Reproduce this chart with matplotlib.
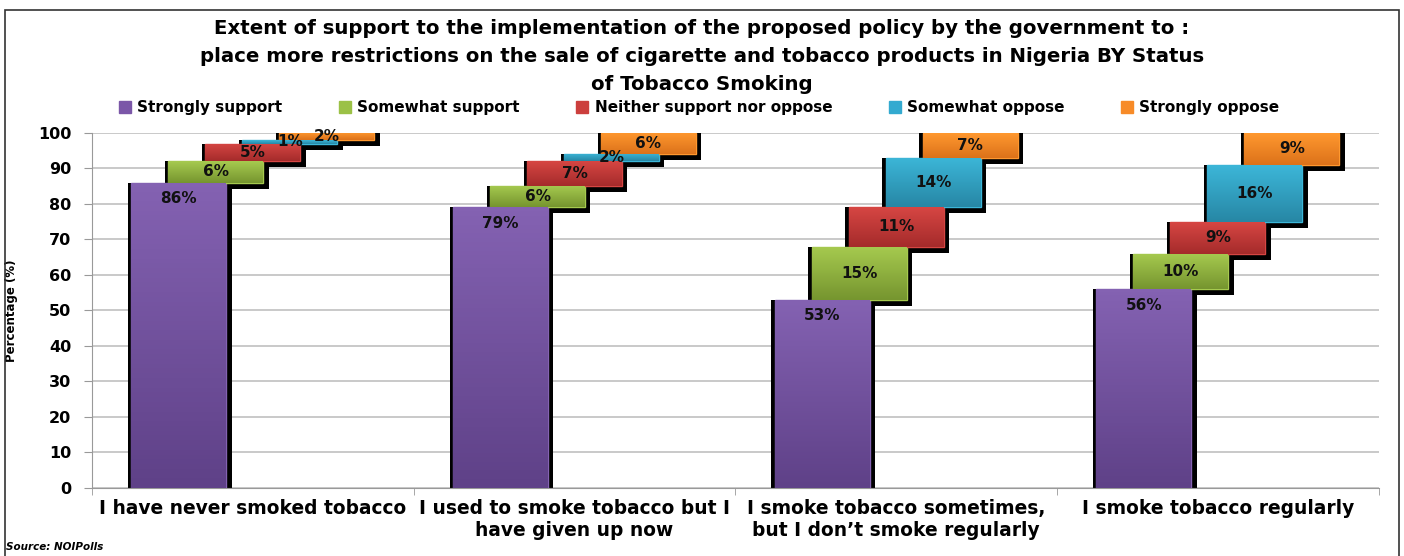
import numpy as np
import matplotlib
matplotlib.use('Agg')
import matplotlib.pyplot as plt
from matplotlib.colors import LinearSegmentedColormap
from matplotlib.patches import Rectangle
from matplotlib.transforms import ScaledTranslation

# data
categories = ['I have never smoked tobacco',
              'I used to smoke tobacco but I\nhave given up now',
              'I smoke tobacco sometimes,\nbut I don\u2019t smoke regularly',
              'I smoke tobacco regularly']
series_names = ['Strongly support', 'Somewhat support', 'Neither support nor oppose',
                'Somewhat oppose', 'Strongly oppose']
strongly_support = [86, 79, 53, 56]
somewhat_support = [6, 6, 15, 10]
neither = [5, 7, 11, 9]
somewhat_oppose = [1, 2, 14, 16]
strongly_oppose = [2, 6, 7, 9]
series = [strongly_support, somewhat_support, neither, somewhat_oppose, strongly_oppose]

# colours (light top, dark bottom) for gradient fill
colors_top = ['#8462b2', '#a6ca4f', '#d64643', '#3cb6d8', '#ff982f']
colors_bot = ['#5f4188', '#76952f', '#a52b2b', '#2787a5', '#dc721a']
colors_mid = ['#7b57a8', '#9bc146', '#cc3f3d', '#33aad0', '#f78b28']

plt.rcParams['font.family'] = 'DejaVu Sans'
plt.rcParams['font.weight'] = 'bold'

fig = plt.figure(figsize=(14.04, 5.56), dpi=100)
ax = fig.add_axes([0.0655, 0.1223, 0.9165, 0.6387])

x = np.arange(len(categories))
width = 0.295
shift = 0.115
offsets = (np.arange(len(series)) - 2) * shift

# shadow: a bit wider than the bar, pushed right and down (in pixels)
px_x = 1287 / 4.0
px_y = 355 / 100.0
shadow_tr = ax.transData + ScaledTranslation(1 / 100, 0, fig.dpi_scale_trans)

bottom = np.zeros(len(categories))
for i, vals in enumerate(series):
    vals = np.array(vals, dtype=float)
    xpos = x + offsets[i]
    ax.bar(xpos, vals + 6 / px_y, width + 9 / px_x, bottom=bottom - 6 / px_y,
           color='black', transform=shadow_tr, zorder=2)
    bars = ax.bar(xpos, vals, width, bottom=bottom, color=colors_mid[i],
                  edgecolor=colors_top[i], linewidth=1, zorder=3)
    cmap = LinearSegmentedColormap.from_list('g%d' % i, [colors_bot[i], colors_top[i]])
    for b in bars:
        x0, y0 = b.get_x(), b.get_y()
        x1, y1 = x0 + b.get_width(), y0 + b.get_height()
        grad = np.linspace(0, 1, 64).reshape(-1, 1)
        im = ax.imshow(grad, extent=(x0, x1, y0, y1), origin='lower', aspect='auto',
                       cmap=cmap, zorder=3.5)
        im.set_clip_path(b)
    # labels
    for j, b in enumerate(bars):
        cx = b.get_x() + b.get_width() / 2
        if i == 0:
            ty = b.get_y() + b.get_height() - 4.5
        else:
            ty = b.get_y() + b.get_height() / 2
        ty = min(ty, 99.0)
        ax.text(cx, ty, '%d%%' % vals[j], ha='center', va='center', fontsize=11,
                fontweight='bold', color='#111111', zorder=5)
    bottom = bottom + vals

ax.set_xlim(-0.5, len(categories) - 0.5)
ax.set_ylim(0, 100)
ax.set_yticks(np.arange(0, 101, 10))
ax.yaxis.grid(True, color='#c0c0c0', linewidth=1.2)
ax.set_axisbelow(True)
ax.set_xticks(x)
ax.set_xticklabels(categories, fontsize=13.4, fontweight='bold')
ax.tick_params(axis='x', length=0, pad=8)
ax.set_xticks(np.arange(len(categories) + 1) - 0.5, minor=True)
ax.tick_params(axis='x', which='minor', length=5, color='#999999')
ax.tick_params(axis='y', length=6, color='#999999', labelsize=11.5, pad=9)
for lab in ax.get_yticklabels():
    lab.set_fontweight('bold')
for s in ['top', 'right']:
    ax.spines[s].set_visible(False)
ax.spines['left'].set_color('#999999')
ax.spines['bottom'].set_color('#999999')
ax.set_ylabel('Percentage (%)', fontsize=8.5, fontweight='bold')
ax.yaxis.set_label_coords(-0.0575, 0.5)

# legend
handles = [Rectangle((0, 0), 1, 1, color=c) for c in colors_mid]
fig.legend(handles, series_names, loc='center', bbox_to_anchor=(0.498, 0.806), ncol=5,
           frameon=False, handlelength=0.8, handleheight=0.8,
           handletextpad=0.4, columnspacing=3.7, prop={'weight': 'bold', 'size': 11})

fig.text(0.5, 0.8975, 'Extent of support to the implementation of the proposed policy by the government to :\n'
         'place more restrictions on the sale of cigarette and tobacco products in Nigeria BY Status\n'
         'of Tobacco Smoking', ha='center', va='center', fontsize=14.2, fontweight='bold',
         linespacing=1.6)

fig.text(0.004, 0.01, 'Source: NOIPolls', fontsize=7.5, fontweight='bold', style='italic')

# outer frame
frame = Rectangle((5 / 1404, -0.05), 1394 / 1404, 1.05 - 10 / 556, transform=fig.transFigure,
                  fill=False, edgecolor='#333333', linewidth=1.2)
fig.patches.append(frame)

fig.savefig('out.png', dpi=100)
